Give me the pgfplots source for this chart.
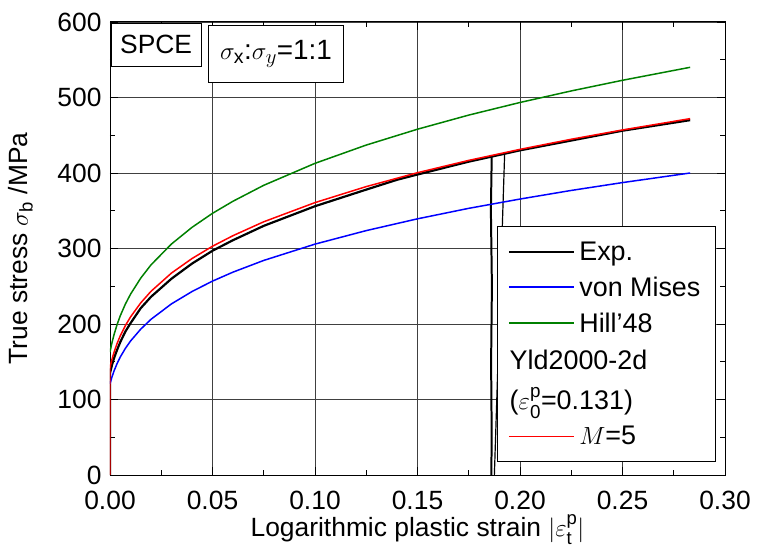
\documentclass[border=0pt]{standalone}
\usepackage{amsmath}
\usepackage{fontspec}
\setmainfont{Liberation Sans}
\usepackage{pgfplots}
\pgfplotsset{compat=1.18}

\definecolor{hillgreen}{RGB}{0,128,0}
\newcommand{\bigfont}{\fontsize{26.5}{31}\selectfont}
\newcommand{\legfont}{\fontsize{27}{32}\selectfont}

\begin{document}
\begin{tikzpicture}
\begin{axis}[
    scale only axis,
    width=615bp,
    height=453bp,
    xmin=0, xmax=0.30,
    ymin=0, ymax=600,
    xtick={0,0.05,0.10,0.15,0.20,0.25,0.30},
    ytick={0,100,200,300,400,500,600},
    minor x tick num=1,
    minor y tick num=1,
    tick align=inside,
    major tick length=8bp,
    minor tick length=5bp,
    every tick/.style={black, line width=0.9pt},
    axis line style={black, line width=1pt},
    grid=major,
    major grid style={black!75, line width=0.7pt},
    /pgf/number format/assume math mode=true,
    tick label style={font=\bigfont},
    xticklabel style={yshift=-13bp, /pgf/number format/fixed,
        /pgf/number format/fixed zerofill, /pgf/number format/precision=2},
    yticklabel style={xshift=-5bp},
    label style={font=\bigfont},
    xlabel={Logarithmic plastic strain $|\varepsilon^{\text{p}}_{\text{t}}|$},
    ylabel={True stress $\sigma_{\text{b}}$ /MPa},
    xlabel style={at={(axis description cs:0.5,-0.120)}, anchor=center},
    ylabel style={at={(axis description cs:-0.145,0.5)}, anchor=center},
    legend style={at={(rel axis cs:0.630,0.029)}, anchor=south west,
        draw=black, line width=0.8pt, fill=white,
        font=\legfont,
        row sep=15bp, inner xsep=10bp, inner ysep=15bp,
        nodes={inner xsep=4.5bp, inner ysep=0pt}},
    legend cell align=left,
]

% legend entries (plots below are kept out of the legend)
\addlegendimage{legend image code/.code={\draw[black, line width=2pt] (0bp,0bp) -- (65bp,0bp);}}
\addlegendentry{Exp.}
\addlegendimage{legend image code/.code={\draw[blue, line width=1.5pt] (0bp,0bp) -- (65bp,0bp);}}
\addlegendentry{von Mises}
\addlegendimage{legend image code/.code={\draw[hillgreen, line width=1.5pt] (0bp,0bp) -- (65bp,0bp);}}
\addlegendentry{Hill'48}
\addlegendimage{legend image code/.code={\node[anchor=west, inner sep=0pt] at (0bp,0bp) {\makebox[0pt][l]{Yld2000-2d}};}}
\addlegendentry{\strut}
\addlegendimage{legend image code/.code={\node[anchor=west, inner sep=0pt] at (0bp,0bp) {\makebox[0pt][l]{($\varepsilon^{\text{p}}_{\text{0}}$=0.131)}};}}
\addlegendentry{\strut}
\addlegendimage{legend image code/.code={\draw[red, line width=1.5pt] (0bp,0bp) -- (65bp,0bp);}}
\addlegendentry{$M$=5}

% experiment
\addplot[black, line width=2.2pt, forget plot] coordinates {
(0,0) (0,135) (0.001,146) (0.002,155) (0.0035,166) (0.005,176) (0.0075,190)
(0.01,201) (0.015,221) (0.02,236) (0.03,260) (0.04,280) (0.05,297) (0.06,311)
(0.075,330) (0.10,356) (0.125,378) (0.14,391) (0.15,398) (0.175,415)
(0.20,430) (0.225,443) (0.25,456) (0.283,470)
};
\addplot[black, line width=2.0pt, forget plot] coordinates {
(0.1862,421) (0.1858,350) (0.1863,250) (0.1859,150) (0.1862,50) (0.1860,0)
};
\addplot[black, line width=1.2pt, forget plot] coordinates {
(0.1925,425) (0.1875,0)
};

% von Mises
\addplot[blue, line width=1.5pt, forget plot] coordinates {
(0,120.7) (0.001,130.2) (0.002,138.0) (0.0035,147.9) (0.005,156.2) (0.0075,167.7)
(0.01,177.4) (0.015,193.2) (0.02,206.2) (0.03,226.7) (0.04,243.0) (0.05,256.8)
(0.06,268.7) (0.075,284.2) (0.10,305.8) (0.125,323.7) (0.15,339.3) (0.175,353.2)
(0.20,365.5) (0.225,376.9) (0.25,387.3) (0.283,400.0)
};

% Hill'48
\addplot[hillgreen, line width=1.5pt, forget plot] coordinates {
(0,162.9) (0.001,175.7) (0.002,186.2) (0.0035,199.6) (0.005,210.8) (0.0075,226.4)
(0.01,239.4) (0.015,260.8) (0.02,278.3) (0.03,306.0) (0.04,328.0) (0.05,346.6)
(0.06,362.6) (0.075,383.7) (0.10,412.8) (0.125,437.0) (0.15,458.0) (0.175,476.7)
(0.20,493.4) (0.225,508.7) (0.25,522.8) (0.283,540.0)
};

% Yld2000-2d, M=5
\addplot[red, line width=1.5pt, forget plot] coordinates {
(0,0) (0,142.4) (0.001,153.6) (0.002,162.8) (0.0035,174.5) (0.005,184.3) (0.0075,197.9)
(0.01,209.3) (0.015,228.0) (0.02,243.3) (0.03,267.5) (0.04,286.7) (0.05,303.0)
(0.06,317.0) (0.075,335.4) (0.10,360.8) (0.125,382.0) (0.15,400.4) (0.175,416.7)
(0.20,431.3) (0.225,444.7) (0.25,457.0) (0.283,472.0)
};

\node[draw=black, line width=0.8pt, fill=white, minimum width=90bp, minimum height=43bp,
      font=\bigfont] at (rel axis cs:0.075,0.950) {SPCE};
\node[draw=black, line width=0.8pt, fill=white, minimum width=135bp, minimum height=57bp,
      font=\fontsize{28}{33}\selectfont] at (rel axis cs:0.270,0.930)
      {$\sigma_{\text{x}}$:$\sigma_{y}$=1:1};
\end{axis}
\path ([xshift=-110bp,yshift=22bp]current axis.north west)
      rectangle ([xshift=32bp,yshift=-72bp]current axis.south east);
\end{tikzpicture}
\end{document}
